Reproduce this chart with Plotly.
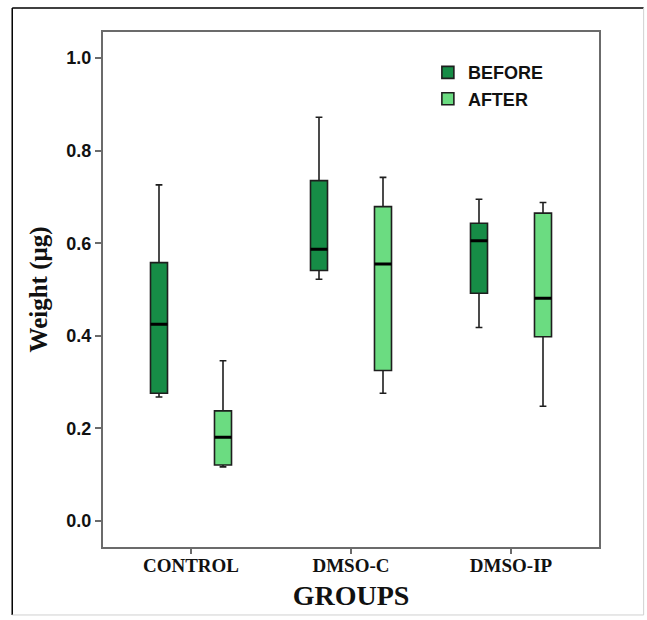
import plotly.graph_objects as go

groups = ["CONTROL", "DMSO-C", "DMSO-IP"]

before_lower = [0.268, 0.522, 0.418]
before_q1 = [0.276, 0.541, 0.492]
before_median = [0.425, 0.587, 0.605]
before_q3 = [0.558, 0.735, 0.643]
before_upper = [0.726, 0.872, 0.695]

after_lower = [0.117, 0.276, 0.248]
after_q1 = [0.121, 0.325, 0.398]
after_median = [0.181, 0.555, 0.481]
after_q3 = [0.238, 0.679, 0.665]
after_upper = [0.346, 0.742, 0.688]

BEFORE_COLOR = "#168c46"
AFTER_COLOR = "#6bdc81"

fig = go.Figure()

def add_box(name, color, lower, q1, med, q3, upper, og):
    fig.add_trace(go.Box(
        name=name, x=groups, q1=q1, median=med, q3=q3,
        lowerfence=lower, upperfence=upper,
        fillcolor=color, line=dict(color="#1e1e1e", width=1.6),
        whiskerwidth=0.4, offsetgroup=og, boxpoints=False,
        hoverinfo="y",
    ))
    # thicker median line overlay
    fig.add_trace(go.Box(
        name=name + " median", x=groups, q1=med, median=med, q3=med,
        lowerfence=med, upperfence=med,
        fillcolor="rgba(0,0,0,0)", line=dict(color="#000000", width=3),
        whiskerwidth=0, offsetgroup=og, boxpoints=False,
        showlegend=False, hoverinfo="skip",
    ))

add_box("BEFORE", BEFORE_COLOR, before_lower, before_q1, before_median, before_q3, before_upper, "before")
add_box("AFTER", AFTER_COLOR, after_lower, after_q1, after_median, after_q3, after_upper, "after")

axis_line = "#6b6b6b"
fig.update_layout(
    width=647, height=620,
    margin=dict(l=103, r=48, t=32, b=73),
    paper_bgcolor="white", plot_bgcolor="white",
    boxmode="group", boxgap=0.2, boxgroupgap=0.734,
    legend=dict(
        x=0.655, y=0.957, xanchor="left", yanchor="top",
        bgcolor="rgba(0,0,0,0)",
        font=dict(family="Liberation Sans, Arial, sans-serif", size=18, color="#111", weight="bold"),
        tracegroupgap=0,
    ),
    xaxis=dict(
        type="category", range=[-0.55, 2.55],
        showline=True, linecolor=axis_line, linewidth=2, mirror=True,
        ticks="outside", ticklen=5, tickcolor=axis_line, tickwidth=1.5,
        ticklabelstandoff=-5,
        showgrid=False, zeroline=False,
        tickfont=dict(family="Liberation Serif, Times New Roman, serif", size=19, color="#111", weight="bold"),
        title=dict(text="GROUPS", standoff=11,
                   font=dict(family="Liberation Serif, Times New Roman, serif", size=28, color="#111", weight="bold")),
    ),
    yaxis=dict(
        range=[-0.056, 1.056], tickvals=[0.0, 0.2, 0.4, 0.6, 0.8, 1.0],
        tickformat=".1f",
        showline=True, linecolor=axis_line, linewidth=2, mirror=True,
        ticks="outside", ticklen=6, tickcolor=axis_line, tickwidth=1.5,
        showgrid=False, zeroline=False,
        tickfont=dict(family="Liberation Sans, Arial, sans-serif", size=18, color="#111", weight="bold"),
        title=dict(text="Weight (μg)", standoff=12,
                   font=dict(family="Liberation Serif, Times New Roman, serif", size=25, color="#111", weight="bold")),
    ),
    shapes=[
        dict(type="line", xref="paper", yref="paper", x0=-0.183, x1=1.09, y0=1.0466, y1=1.0466,
             line=dict(color="#000", width=1.5)),
        dict(type="line", xref="paper", yref="paper", x0=-0.183, x1=-0.183, y0=1.0466, y1=-0.132,
             line=dict(color="#000", width=1.5)),
        dict(type="line", xref="paper", yref="paper", x0=1.09, x1=1.09, y0=1.0466, y1=-0.132,
             line=dict(color="#d0d0d0", width=1)),
        dict(type="line", xref="paper", yref="paper", x0=-0.183, x1=1.09, y0=-0.132, y1=-0.132,
             line=dict(color="#d0d0d0", width=1)),
    ],
)

fig.write_html("out.html", config={"displayModeBar": False},
               post_script="document.body.style.margin='0';document.body.style.padding='0';")
